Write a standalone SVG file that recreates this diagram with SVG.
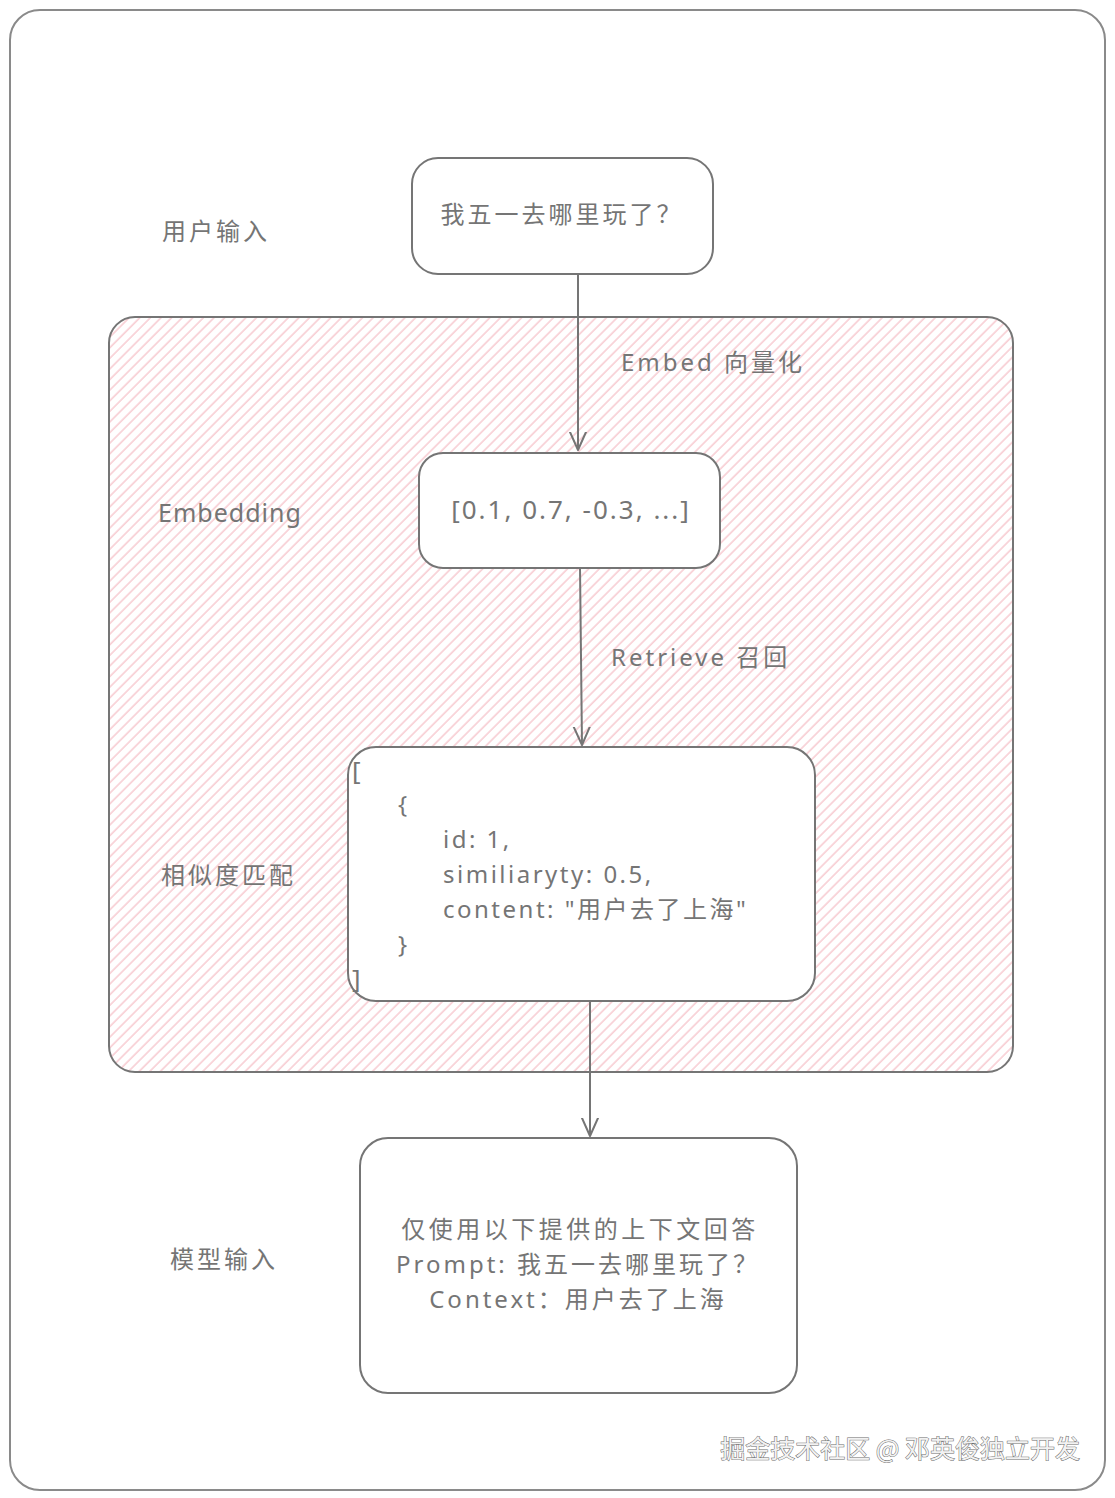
<svg xmlns="http://www.w3.org/2000/svg" width="1115" height="1498" viewBox="0 0 1115 1498">
<defs>
<pattern id="hatch" patternUnits="userSpaceOnUse" width="7.5" height="7.5" patternTransform="rotate(45)">
<line x1="1" y1="0" x2="1" y2="7.5" stroke="#f4b6bf" stroke-width="1.1"/>
</pattern>
<marker id="arr" viewBox="0 0 20 20" refX="18" refY="10" markerWidth="20" markerHeight="20" markerUnits="userSpaceOnUse" orient="auto">
<path d="M0,2 L18,10 L0,18" fill="none" stroke="#757575" stroke-width="2" stroke-linecap="round" stroke-linejoin="round"/>
</marker>
</defs>
<style>
.box{fill:#fff;stroke:#757575;stroke-width:2}
.t{font-family:"Noto Sans","Noto Sans CJK SC",sans-serif;fill:#757575;font-size:24px;letter-spacing:2.5px}
.c{text-anchor:middle}
.conn{stroke:#757575;stroke-width:2;fill:none}
</style>
<rect x="0" y="0" width="1115" height="1498" fill="#fff"/>
<rect id="frame" x="10" y="10" width="1095" height="1480" rx="30" fill="#fff" stroke="#8a8a8a" stroke-width="2"/>
<g id="group">
<rect x="109" y="317" width="904" height="755" rx="26" fill="url(#hatch)" stroke="#757575" stroke-width="2"/>
</g>
<g id="labels">
<text class="t" x="162" y="240" style="letter-spacing:3px">用户输入</text>
<text class="t" x="158" y="522" style="font-size:25px;letter-spacing:1px">Embedding</text>
<text class="t" x="161" y="884" style="letter-spacing:3px">相似度匹配</text>
<text class="t" x="170" y="1268" style="letter-spacing:3px">模型输入</text>
<text class="t" x="621" y="371" style="letter-spacing:3px">Embed 向量化</text>
<text class="t" x="611" y="666" style="letter-spacing:3px">Retrieve 召回</text>
</g>
<g id="connectors">
<line class="conn" x1="578" y1="274" x2="578" y2="450" marker-end="url(#arr)"/>
<line class="conn" x1="580" y1="568" x2="582" y2="745" marker-end="url(#arr)"/>
<line class="conn" x1="590" y1="1001" x2="590" y2="1136" marker-end="url(#arr)"/>
</g>
<g id="n1">
<rect class="box" x="412" y="158" width="301" height="116" rx="26"/>
<text class="t c" x="562" y="223" style="letter-spacing:3px">我五一去哪里玩了？</text>
</g>
<g id="n2">
<rect class="box" x="419" y="453" width="301" height="115" rx="24"/>
<text class="t c" x="571" y="519" style="font-size:26px;letter-spacing:2px">[0.1, 0.7, -0.3, ...]</text>
</g>
<g id="n3">
<rect class="box" x="348" y="747" width="467" height="254" rx="28"/>
<text class="t" x="352" y="780" style="font-size:26px">[</text>
<text class="t" x="398" y="813">{</text>
<text class="t" x="443" y="848">id: 1,</text>
<text class="t" x="443" y="883">similiaryty: 0.5,</text>
<text class="t" x="443" y="918">content: "用户去了上海"</text>
<text class="t" x="398" y="953">}</text>
<text class="t" x="352" y="988" style="font-size:26px">]</text>
</g>
<g id="n4">
<rect class="box" x="360" y="1138" width="437" height="255" rx="28"/>
<text class="t c" x="580" y="1238" style="letter-spacing:3.5px">仅使用以下提供的上下文回答</text>
<text class="t c" x="578" y="1273" style="letter-spacing:3px">Prompt: 我五一去哪里玩了？</text>
<text class="t c" x="578" y="1308" style="letter-spacing:3px">Context：用户去了上海</text>
</g>
<text x="1080" y="1458" text-anchor="end" font-family="Noto Sans CJK SC, sans-serif" font-size="25" fill="#f2f2f2" stroke="#6a6a6a" stroke-width="1" paint-order="stroke">掘金技术社区 @ 邓英俊独立开发</text>
</svg>
